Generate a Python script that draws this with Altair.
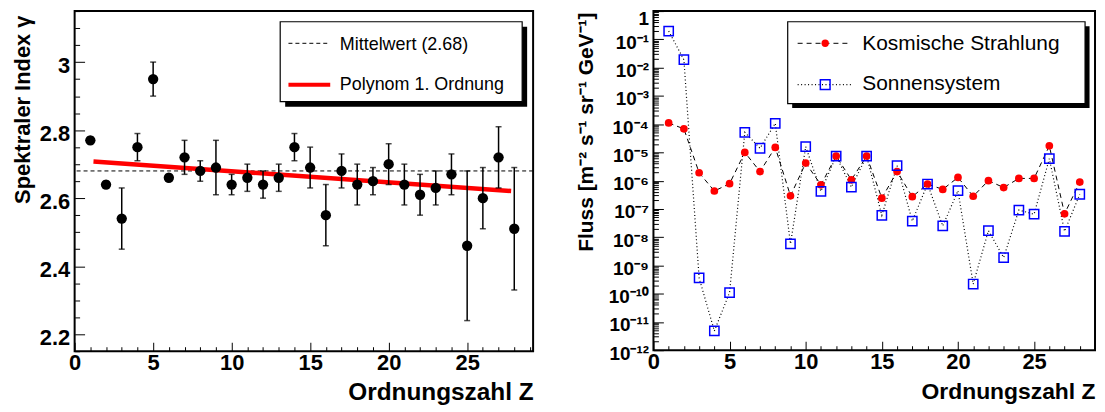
import altair as alt
import pandas as pd

# ---------------- data ----------------
Z = list(range(1, 29))
GAMMA = [2.77, 2.64, 2.54, 2.75, 2.95, 2.66, 2.72, 2.68, 2.69, 2.64,
         2.66, 2.64, 2.66, 2.75, 2.69, 2.55, 2.68, 2.64, 2.65, 2.70,
         2.64, 2.61, 2.63, 2.67, 2.46, 2.60, 2.72, 2.51]
GAMMA_ERR = [0.01, 0.01, 0.09, 0.04, 0.05, 0.01, 0.05, 0.03, 0.08, 0.03,
             0.04, 0.04, 0.04, 0.04, 0.06, 0.09, 0.05, 0.06, 0.04, 0.06,
             0.06, 0.06, 0.05, 0.06, 0.22, 0.09, 0.09, 0.18]
MEAN = 2.68
FIT_Z = [1.2, 27.8]
FIT_GAMMA = [2.708, 2.621]

COSMIC = [1.1e-4, 6.8e-5, 1.9e-6, 4.3e-7, 7.8e-7, 1.0e-5, 2.1e-6, 1.5e-5, 2.9e-7, 4.2e-6,
          7.1e-7, 7.4e-6, 1.07e-6, 7.4e-6, 2.4e-7, 2.1e-6, 2.7e-7, 7.6e-7, 4.9e-7, 1.3e-6,
          2.8e-7, 1.0e-6, 5.7e-7, 1.2e-6, 1.2e-6, 1.7e-5, 6.7e-8, 8.9e-7]
SOLAR = [0.195, 0.019, 3.6e-10, 4.8e-12, 1.1e-10, 5.1e-5, 1.4e-5, 1.07e-4, 5.8e-9, 1.6e-5,
         4.2e-7, 7.4e-6, 5.9e-7, 7.4e-6, 5.9e-8, 3.4e-6, 3.7e-8, 7.6e-7, 2.5e-8, 4.4e-7,
         2.2e-10, 1.7e-8, 1.9e-9, 9.1e-8, 6.5e-8, 6.0e-6, 1.6e-8, 3.3e-7]

X_LABELS = [0, 5, 10, 15, 20, 25]
X_TICKS = list(range(0, 30))
GAMMA_LABELS = [2.2, 2.4, 2.6, 2.8, 3.0]
GAMMA_TICKS = [round(2.15 + 0.05 * i, 2) for i in range(21)]
DECADES = [10.0 ** -e for e in range(0, 13)]
DECADE_LABELS = ["1", "10⁻¹", "10⁻²", "10⁻³", "10⁻⁴", "10⁻⁵", "10⁻⁶",
                 "10⁻⁷", "10⁻⁸", "10⁻⁹", "10⁻¹⁰", "10⁻¹¹", "10⁻¹²"]
FLUX_TICKS = [m * 10.0 ** e for e in range(-12, 0) for m in range(1, 10)] + [1.0]

LEG_LEFT = ["Mittelwert (2.68)", "Polynom 1. Ordnung"]
LEG_RIGHT = ["Kosmische Strahlung", "Sonnensystem"]

# ---------------- style ----------------
NARROW = "Liberation Sans Narrow, Liberation Sans, Arial, sans-serif"
SANS = "Liberation Sans, Arial, Helvetica, sans-serif"

W1, H1 = 461, 342
W2, H2 = 444, 341

df1 = pd.DataFrame({"Z": Z, "g": GAMMA,
                    "lo": [g - e for g, e in zip(GAMMA, GAMMA_ERR)],
                    "hi": [g + e for g, e in zip(GAMMA, GAMMA_ERR)]})
dfit = pd.DataFrame({"Z": FIT_Z, "g": FIT_GAMMA})
dmean = pd.DataFrame({"m": [MEAN]})
df2 = pd.DataFrame({"Z": Z, "cosmic": COSMIC, "solar": SOLAR})
one = pd.DataFrame({"k": [0]})

xs1 = alt.Scale(domain=[0, 29.2], nice=False, zero=False)
ys1 = alt.Scale(domain=[2.15, 3.15], nice=False, zero=False)
xs2 = alt.Scale(domain=[0, 29], nice=False, zero=False)
ys2 = alt.Scale(type="log", domain=[1e-12, 1], nice=False)


def x_main(width, fs_title):
    return alt.Axis(values=X_LABELS, ticks=False, domain=False, grid=False,
                    labelFont=NARROW, labelFontWeight="bold", labelFontSize=22,
                    labelColor="black", labelPadding=1, labelFlush=False,
                    labelOverlap=False,
                    title="Ordnungszahl Z", titleFont=SANS, titleFontWeight="bold",
                    titleFontSize=fs_title, titleColor="black", titleX=width,
                    titleY=49, titleAlign="right", titleBaseline="alphabetic",
                    titleAnchor="end")


def x_ticks(height):
    return alt.Axis(orient="top", offset=-height, values=X_TICKS, labels=False,
                    domain=False, grid=False, tickColor="black", tickWidth=1,
                    tickSize={"condition": {"test": "datum.value % 5 === 0", "value": 9},
                              "value": 4.5},
                    title=None)


y_main1 = alt.Axis(values=GAMMA_LABELS, format=".1~f", ticks=False, domain=False,
                   grid=False, labelFont=NARROW, labelFontWeight="bold",
                   labelFontSize=22, labelColor="black", labelPadding=5,
                   labelOffset=3, labelFlush=False, labelOverlap=False,
                   title="Spektraler Index γ", titleFont=SANS, titleFontWeight="bold",
                   titleFontSize=22, titleColor="black", titleAngle=270,
                   titleX=-45, titleY=4, titleAlign="right",
                   titleBaseline="alphabetic")
y_ticks1 = alt.Axis(orient="right", offset=-W1, values=GAMMA_TICKS, labels=False,
                    domain=False, grid=False, tickColor="black", tickWidth=1,
                    tickSize={"condition": {"test": "abs(datum.value*5 - round(datum.value*5)) < 0.001",
                                            "value": 10}, "value": 5},
                    title=None)

label_expr = "[" + ",".join("'" + s + "'" for s in DECADE_LABELS) + "][round(-log(datum.value)/LN10)]"
y_main2 = alt.Axis(values=DECADES, labelExpr=label_expr, ticks=False, domain=False,
                   grid=False, labelFont=NARROW, labelFontWeight="bold",
                   labelFontSize=19, labelColor="black", labelPadding=5,
                   labelOffset={"condition": {"test": "datum.value > 0.5", "value": 7},
                                "value": 3},
                   labelFlush=False, labelOverlap=False,
                   title="Fluss [m⁻² s⁻¹ sr⁻¹ GeV⁻¹]", titleFont=SANS,
                   titleFontWeight="bold", titleFontSize=21, titleColor="black",
                   titleAngle=270, titleX=-61, titleY=1, titleAlign="right",
                   titleBaseline="alphabetic")
y_ticks2 = alt.Axis(orient="right", offset=-W2, values=FLUX_TICKS, labels=False,
                    domain=False, grid=False, tickColor="black", tickWidth=1,
                    tickSize={"condition": {"test": "abs(log(datum.value)/LN10 - round(log(datum.value)/LN10)) < 0.001",
                                            "value": 10}, "value": 5},
                    title=None)


def rect(x1, x2, y1, y2, fill, stroke=None):
    kw = dict(fill=fill)
    if stroke:
        kw.update(stroke=stroke, strokeWidth=1.2)
    return alt.Chart(one).mark_rect(**kw).encode(
        x=alt.value(x1), x2=alt.value(x2), y=alt.value(y1), y2=alt.value(y2))


def text(x, y, s, size):
    return alt.Chart(one).mark_text(align="left", baseline="alphabetic", font=SANS,
                                    fontSize=size, color="black").encode(
        x=alt.value(x), y=alt.value(y), text=alt.value(s))


def seg(x1, x2, y, **kw):
    return alt.Chart(one).mark_rule(**kw).encode(
        x=alt.value(x1), x2=alt.value(x2), y=alt.value(y))


# ---------------- left panel ----------------
mean_line = alt.Chart(dmean).mark_rule(color="black", strokeWidth=1, strokeDash=[4, 3]).encode(
    y=alt.Y("m:Q", scale=ys1, axis=None))
fit_line = alt.Chart(dfit).mark_line(color="#ff0000", strokeWidth=4.5).encode(
    x=alt.X("Z:Q", scale=xs1, axis=None), y=alt.Y("g:Q", scale=ys1, axis=None))
err = alt.Chart(df1).mark_rule(color="black", strokeWidth=1.5).encode(
    x=alt.X("Z:Q", scale=xs1, axis=x_ticks(H1)),
    y=alt.Y("lo:Q", scale=ys1, axis=y_ticks1), y2="hi:Q")
cap_lo = alt.Chart(df1).mark_tick(color="black", orient="horizontal", size=6, thickness=1.5).encode(
    x=alt.X("Z:Q", scale=xs1, axis=None), y=alt.Y("lo:Q", scale=ys1, axis=None))
cap_hi = alt.Chart(df1).mark_tick(color="black", orient="horizontal", size=6, thickness=1.5).encode(
    x=alt.X("Z:Q", scale=xs1, axis=None), y=alt.Y("hi:Q", scale=ys1, axis=None))
pts = alt.Chart(df1).mark_circle(color="black", size=108, opacity=1).encode(
    x=alt.X("Z:Q", scale=xs1, axis=x_main(W1, 24.5)),
    y=alt.Y("g:Q", scale=ys1, axis=y_main1))

leg1 = [
    rect(211.7, 455, 15.7, 96.3, "black"),
    rect(206.7, 450, 10.7, 91, "white", "black"),
    seg(215, 257, 32.4, color="black", strokeWidth=1, strokeDash=[4, 3]),
    seg(215, 257, 74, color="#ff0000", strokeWidth=4),
    text(266.7, 39, LEG_LEFT[0], 18),
    text(266.7, 79, LEG_LEFT[1], 18),
]

left = alt.layer(mean_line, fit_line, err, cap_lo, cap_hi, pts, *leg1).resolve_axis(
    x="independent", y="independent").properties(width=W1, height=H1)

# ---------------- right panel ----------------
cos_line = alt.Chart(df2).mark_line(color="black", strokeWidth=1, strokeDash=[5, 4]).encode(
    x=alt.X("Z:Q", scale=xs2, axis=x_ticks(H2)),
    y=alt.Y("cosmic:Q", scale=ys2, axis=y_ticks2))
sol_line = alt.Chart(df2).mark_line(color="black", strokeWidth=1.2, strokeDash=[1, 2.5]).encode(
    x=alt.X("Z:Q", scale=xs2, axis=None), y=alt.Y("solar:Q", scale=ys2, axis=None))
cos_pts = alt.Chart(df2).mark_circle(color="#ff0000", size=60, opacity=1).encode(
    x=alt.X("Z:Q", scale=xs2, axis=x_main(W2, 23)),
    y=alt.Y("cosmic:Q", scale=ys2, axis=y_main2))
sol_pts = alt.Chart(df2).mark_point(shape="square", filled=False, color="#0000ff",
                                    strokeWidth=1.5, size=87, opacity=1).encode(
    x=alt.X("Z:Q", scale=xs2, axis=None), y=alt.Y("solar:Q", scale=ys2, axis=None))

leg2 = [
    rect(139.5, 438.5, 15.2, 97.5, "black"),
    rect(135, 434, 10.7, 93, "white", "black"),
    seg(145, 199, 32.4, color="black", strokeWidth=1, strokeDash=[5, 4]),
    alt.Chart(one).mark_circle(color="#ff0000", size=55, opacity=1).encode(
        x=alt.value(172.7), y=alt.value(32.4)),
    seg(145, 199, 74, color="black", strokeWidth=1.2, strokeDash=[1, 2.5]),
    alt.Chart(one).mark_point(shape="square", filled=False, color="#0000ff",
                              strokeWidth=1.5, size=95, opacity=1).encode(
        x=alt.value(172.7), y=alt.value(74)),
    text(210, 39, LEG_RIGHT[0], 21),
    text(210, 79, LEG_RIGHT[1], 21),
]

right = alt.layer(cos_line, sol_line, cos_pts, sol_pts, *leg2).resolve_axis(
    x="independent", y="independent").properties(width=W2, height=H2)

chart = alt.hconcat(left, right, spacing=121, bounds="flush").configure_view(
    stroke="black", strokeWidth=2).properties(
    padding={"left": 3, "top": -1, "right": 0, "bottom": 0}, background="white")

chart.save("out.html", embed_options={"renderer": "svg", "actions": False})
